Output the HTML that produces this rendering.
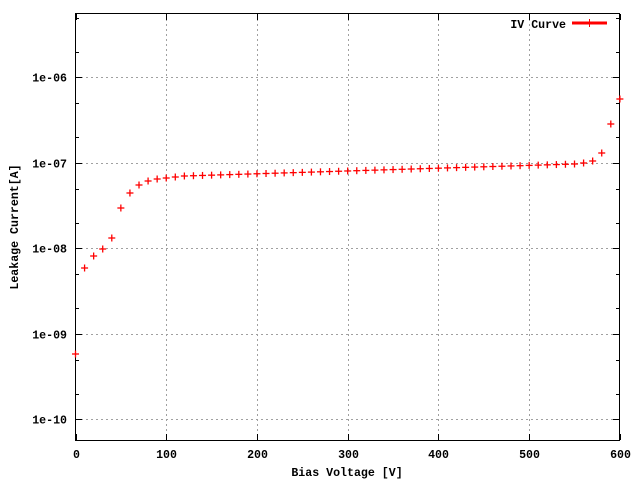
<!DOCTYPE html><html><head><style>body{margin:0;background:#fff}</style></head><body>
<svg id="s" width="640" height="480" xmlns="http://www.w3.org/2000/svg" font-family="Liberation Mono, monospace" font-size="11.6" font-weight="bold">
<rect width="640" height="480" fill="#fff"/>
<g id="grid" stroke="#a0a0a0" stroke-dasharray="2,3" stroke-width="1"></g>
<g id="ax" stroke="#000" stroke-width="1"></g>
<rect x="75.5" y="13.5" width="544" height="427" fill="none" stroke="#000"/>
<g id="lab"></g>
<text x="347" y="476" text-anchor="middle">Bias Voltage [V]</text>
<text transform="translate(18,227) rotate(-90)" text-anchor="middle">Leakage Current[A]</text>
<text x="566" y="28" text-anchor="end">IV Curve</text>
<line x1="572" y1="23" x2="607" y2="23" stroke="#f00" stroke-width="3"/>
<line x1="589.5" y1="19" x2="589.5" y2="27" stroke="#f00" stroke-width="1"/>
<g id="pts" stroke="#f00" stroke-width="1.3"></g>
</svg>
<script>
var ns="http://www.w3.org/2000/svg";
function el(p,t,a,txt){var e=document.createElementNS(ns,t);for(var k in a)e.setAttribute(k,a[k]);if(txt)e.textContent=txt;document.getElementById(p).appendChild(e);}
function X(v){return 75.5+v*0.9073;}
function Y(l){return 77.3+(-6-l)*85.5;}
for(var v=0;v<=600;v+=100){var x=Math.round(X(v))+0.5;
 if(v>0&&v<600)el('grid','line',{x1:x,y1:14,x2:x,y2:440});
 el('ax','line',{x1:x,y1:440,x2:x,y2:434});el('ax','line',{x1:x,y1:14,x2:x,y2:20});
 el('lab','text',{x:x,y:458,'text-anchor':'middle'},String(v));}
for(var d=-11;d<=-5;d++){for(var m=1;m<10;m++){var y=Y(d+Math.log10(m));if(y<14||y>440)continue;y=Math.round(y)+0.5;
 var len=(m==1)?6:3;if(m!=1&&m!=2&&m!=5)continue;
 el('ax','line',{x1:76,y1:y,x2:76+len,y2:y});el('ax','line',{x1:619,y1:y,x2:619-len,y2:y});
 if(m==1){el('grid','line',{x1:76,y1:y,x2:619,y2:y});el('lab','text',{x:67,y:y+4,'text-anchor':'end'},'1e-'+(d>-10?'0':'')+(-d));}}}
var ys={0:354,10:268,20:256,30:249,40:238,50:208,60:193,70:185,80:181,90:179,100:178,110:177,120:176,550:164,560:163,570:161,580:153,590:124,600:99};
for(var v=0;v<=600;v+=10){var y=ys[v];if(y===undefined)y=176-(v-120)*12/430;var x=X(v);
 el('pts','line',{x1:x-3.5,y1:y,x2:x+3.5,y2:y});el('pts','line',{x1:x,y1:y-3.5,x2:x,y2:y+3.5});}
</script></body></html>
